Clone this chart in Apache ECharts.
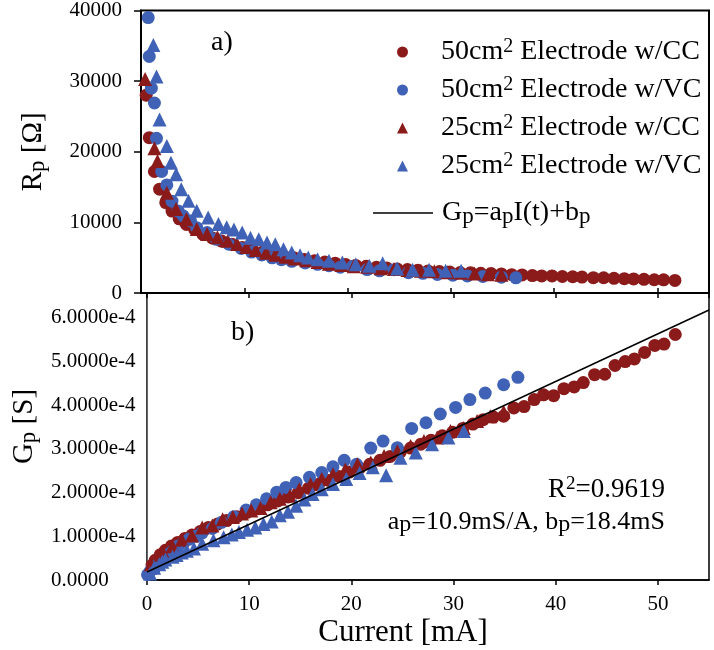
<!DOCTYPE html>
<html><head><meta charset="utf-8">
<script src="https://cdn.jsdelivr.net/npm/echarts@6/dist/echarts.min.js"></script>
<style>html,body{margin:0;padding:0;background:#fff}#c{width:714px;height:650px}</style>
</head><body><div id="c"></div>
<script>
// Current [mA]
const I_A = [0.5,0.8,1.3,1.8,2.4,3.0,3.7,4.4,5.2,6.0,6.9,7.8,8.8,9.8,10.8,11.8,12.8,13.8,14.8,15.8,16.8,17.8,18.8,19.8,20.8,21.8,22.8,23.8,24.8,25.8,26.8,27.8,28.9,29.9,30.9,31.9,32.9,33.9,34.9,35.9,36.9,37.9,38.8,39.8,40.8,41.8,42.7,43.8,44.8,45.8,46.8,47.7,48.7,49.7,50.6,51.7];
// Gp in units of 1e-4 S
const G_A = [0.34,0.45,0.58,0.68,0.78,0.86,0.95,1.03,1.11,1.20,1.28,1.36,1.45,1.55,1.63,1.72,1.81,1.90,2.00,2.10,2.19,2.28,2.37,2.47,2.56,2.65,2.74,2.83,2.93,3.02,3.11,3.20,3.30,3.38,3.47,3.57,3.67,3.73,3.75,3.94,3.97,4.13,4.24,4.22,4.38,4.42,4.52,4.70,4.71,4.91,5.00,5.06,5.21,5.37,5.40,5.62];
// Rp in Ohm
const R_A = [28000,22000,17200,14700,12800,11600,10500,9700,9000,8300,7800,7350,6900,6450,6130,5810,5520,5260,5000,4760,4570,4390,4220,4050,3910,3770,3650,3530,3410,3310,3220,3120,3030,2960,2900,2850,2800,2750,2700,2600,2560,2470,2420,2420,2340,2300,2250,2170,2160,2080,2030,2000,1940,1880,1860,1780];

const I_B = [0.05,0.3,0.7,0.8,1.0,1.3,1.5,2.0,2.5,3.0,3.6,4.1,4.8,5.4,6.4,7.3,8.5,9.7,10.7,11.7,12.7,13.6,14.6,15.9,17.1,18.2,19.3,20.5,21.9,23.1,24.5,25.9,27.3,28.7,30.2,31.6,33.1,34.9,36.3];
const G_B = [0.12,0.20,0.26,0.30,0.34,0.38,0.46,0.58,0.66,0.77,0.86,0.93,1.00,1.08,1.18,1.32,1.45,1.60,1.72,1.86,2.01,2.12,2.23,2.35,2.46,2.59,2.74,2.65,3.02,3.18,3.03,3.47,3.60,3.80,3.95,4.13,4.28,4.47,4.64];
const R_B = [null,null,39000,33500,29000,26900,21900,17200,15300,13000,11600,10900,10200,9250,8550,7600,6900,6300,5800,5380,4980,4720,4480,4250,4060,3860,3650,3770,3310,3140,3300,2880,2780,2630,2530,2420,2340,2240,2150];

const I_C = [0.4,1.3,1.6,2.5,3.4,4.4,5.4,6.4,7.4,8.4,9.3,10.2,11.1,12.1,13.0,14.0,14.9,16.0,17.1,18.2,19.4,20.6,21.9,23.2,24.5,25.8,27.1,28.4,29.7,31.0,32.3,33.6,34.9];
const G_C = [0.36,0.58,0.62,0.77,0.92,1.02,1.20,1.25,1.39,1.44,1.52,1.59,1.65,1.78,1.86,1.93,2.08,2.19,2.31,2.42,2.53,2.65,2.69,2.84,2.95,3.07,3.18,3.26,3.41,3.48,3.64,3.75,3.85];
const R_C = [30300,20500,18700,14200,11900,10460,9060,8350,7900,7400,6950,6500,6100,5700,5400,5150,4900,4620,4380,4150,3950,3780,3700,3520,3400,3260,3150,3070,2930,2870,2750,2670,2600];

const I_D = [0.3,0.7,1.2,1.5,1.8,2.5,2.9,3.4,3.9,4.6,5.4,6.5,7.5,8.3,9.0,9.8,10.6,11.4,12.2,13.0,13.8,14.6,15.4,16.2,17.1,18.2,19.5,20.8,22.1,23.4,24.8,26.3,27.9,29.5,31.0];
const G_D = [0.15,0.28,0.36,0.42,0.47,0.53,0.57,0.63,0.67,0.72,0.83,0.91,0.98,1.04,1.10,1.15,1.20,1.28,1.34,1.48,1.56,1.70,1.84,1.97,2.08,2.20,2.31,2.45,2.58,2.40,2.80,2.92,3.11,3.26,3.41];
const R_D = [null,null,35100,30660,24550,20800,18450,16800,14700,13060,11650,10700,9760,9300,9000,8550,7840,7600,7140,6900,6200,5730,5350,5030,4790,4550,4320,4080,3860,4220,3480,3280,3280,3140,3140];

// Fit line Gp = ap*I + bp (endpoints, 1e-4 S)
const FIT_I = [0, 55];
const FIT_G = [0.184, 6.18];

const X_TICKS = [0,10,20,30,40,50];

const RED = '#8B1A1A', BLUE = '#4062B6';
const FONT = '"Liberation Serif","Times New Roman",serif';

function pairs(xs, ys, minX){ const out=[]; xs.forEach((x,i)=>{ if(ys[i]!=null && (minX==null || x>=minX)) out.push([x, ys[i]]); }); return out; }

const supSub = {
  sup:{fontSize:20, lineHeight:20, verticalAlign:'top', fontFamily:FONT, color:'#000'},
  sub:{fontSize:23, lineHeight:23, verticalAlign:'bottom', fontFamily:FONT, color:'#000'}
};
const legendNames = {
  A:'50cm{sup|2} Electrode w/CC',
  B:'50cm{sup|2} Electrode w/VC',
  C:'25cm{sup|2} Electrode w/CC',
  D:'25cm{sup|2} Electrode w/VC',
  fit:'G{sub|p}=a{sub|p}I(t)+b{sub|p}'
};

const chart = echarts.init(document.getElementById('c'));
const mk = (name, x, y, xi, sym, color, size) => ({
  name, type:'scatter', xAxisIndex:xi, yAxisIndex:xi, data:pairs(x,y),
  symbol:sym, symbolSize:size, itemStyle:{color, opacity:1}, emphasis:{disabled:true}
});
const nameRich = {sub:{fontSize:23, lineHeight:23, verticalAlign:'bottom', fontFamily:FONT, color:'#000'}};

chart.setOption({
  animation:false,
  backgroundColor:'#fff',
  grid:[
    {left:141, right:5, top:10, height:283, show:true, borderColor:'#000', borderWidth:2, backgroundColor:'transparent'},
    {left:141, right:5, top:293, height:287, show:true, borderColor:'#000', borderWidth:1.5, backgroundColor:'transparent'}
  ],
  xAxis:[
    {gridIndex:0, type:'value', min:0, max:55, interval:10,
     axisLine:{lineStyle:{color:'#000', width:2}}, axisTick:{inside:true, length:5, lineStyle:{color:'#000', width:1.5}},
     axisLabel:{show:false}, splitLine:{show:false}},
    {gridIndex:1, type:'value', min:0, max:55, interval:10,
     axisLine:{lineStyle:{color:'#000', width:1.5}}, axisTick:{length:5, lineStyle:{color:'#000', width:1.5}},
     axisLabel:{fontSize:21, fontFamily:FONT, color:'#000', margin:14, showMaxLabel:false,
       formatter:v=> X_TICKS.indexOf(v)>=0 ? String(v) : ''},
     splitLine:{show:false},
     name:'Current [mA]', nameLocation:'middle', nameGap:37,
     nameTextStyle:{fontSize:31, fontFamily:FONT, color:'#000', lineHeight:32, padding:[0,50,0,0]}},
    {gridIndex:1, type:'value', min:0, max:55, interval:10, position:'top',
     axisLine:{lineStyle:{color:'#000', width:2}}, axisTick:{inside:true, length:5, lineStyle:{color:'#000', width:1.5}},
     axisLabel:{show:false}, splitLine:{show:false}}
  ],
  yAxis:[
    {gridIndex:0, type:'value', min:0, max:40000, interval:10000,
     axisLine:{show:true, lineStyle:{color:'#000', width:2}}, axisTick:{show:true, length:7, lineStyle:{color:'#000', width:1.5}},
     axisLabel:{fontSize:21, fontFamily:FONT, color:'#000', margin:19, formatter:v=>String(v)},
     splitLine:{show:false},
     name:'R{sub|p} [Ω]', nameLocation:'middle', nameGap:92, nameRotate:90,
     nameTextStyle:{fontSize:29, fontFamily:FONT, color:'#000', lineHeight:32, rich:nameRich}},
    {gridIndex:1, type:'value', min:0, max:6.57, interval:1,
     axisLine:{show:true, lineStyle:{color:'#666', width:1}}, axisTick:{show:false},
     axisLabel:{fontSize:21, fontFamily:FONT, color:'#000', margin:96, align:'left',
       formatter:v=> Math.abs(v-Math.round(v))>1e-6 ? '' : (v===0 ? '0.0000' : v.toFixed(4)+'e-4')},
     splitLine:{show:false},
     name:'G{sub|p} [S]', nameLocation:'middle', nameGap:107, nameRotate:90,
     nameTextStyle:{fontSize:29, fontFamily:FONT, color:'#000', lineHeight:32, rich:nameRich, padding:[0,0,0,20]}}
  ],
  legend:[
    {data:['A','B','C','D'], orient:'vertical', left:392, top:32, itemWidth:11, itemHeight:11, itemGap:8,
     selectedMode:false, formatter:n=>legendNames[n],
     textStyle:{fontSize:28, fontFamily:FONT, color:'#000', lineHeight:30, padding:[0,0,0,28], rich:supSub}},
    {data:[{name:'fit', icon:'rect'}], orient:'vertical', left:368, top:193, itemWidth:60, itemHeight:1.5,
     selectedMode:false, formatter:n=>legendNames[n],
     textStyle:{fontSize:28, fontFamily:FONT, color:'#000', lineHeight:30, padding:[0,0,0,4], rich:supSub}}
  ],
  graphic:[
    {type:'text', x:211, y:43, style:{text:'a)', fontSize:28, fontFamily:FONT, fill:'#000', verticalAlign:'middle'}},
    {type:'text', x:231, y:333, style:{text:'b)', fontSize:28, fontFamily:FONT, fill:'#000', verticalAlign:'middle'}},
    {type:'text', x:665, y:490, style:{text:'R{sup|2}=0.9619', fontSize:27, fontFamily:FONT, fill:'#000', align:'right', verticalAlign:'middle', lineHeight:30,
      rich:{sup:{fontSize:19, lineHeight:19, verticalAlign:'top', fontFamily:FONT, fill:'#000'}}}},
    {type:'text', x:665, y:522, style:{text:'a{sub|p}=10.9mS/A, b{sub|p}=18.4mS', fontSize:26, fontFamily:FONT, fill:'#000', align:'right', verticalAlign:'middle', lineHeight:30,
      rich:{sub:{fontSize:24, lineHeight:24, verticalAlign:'bottom', fontFamily:FONT, fill:'#000'}}}}
  ],
  series:[
    {name:'Aline', type:'line', xAxisIndex:0, yAxisIndex:0, data:pairs(I_A, R_A, 3), symbol:'none', smooth:true,
     lineStyle:{color:RED, width:1.5}, itemStyle:{color:RED}, silent:true, z:1},
    mk('A', I_A, R_A, 0, 'circle', RED, 13),
    mk('B', I_B, R_B, 0, 'circle', BLUE, 13),
    mk('C', I_C, R_C, 0, 'triangle', RED, 14),
    mk('D', I_D, R_D, 0, 'triangle', BLUE, 14),
    mk('A', I_A, G_A, 1, 'circle', RED, 13),
    mk('B', I_B, G_B, 1, 'circle', BLUE, 13),
    mk('C', I_C, G_C, 1, 'triangle', RED, 14),
    mk('D', I_D, G_D, 1, 'triangle', BLUE, 14),
    {name:'fit', type:'line', xAxisIndex:1, yAxisIndex:1, data:pairs(FIT_I, FIT_G), symbol:'none',
     lineStyle:{color:'#000', width:1.5}, itemStyle:{color:'#000'}, silent:true, z:5}
  ]
});
</script>
</body></html>
